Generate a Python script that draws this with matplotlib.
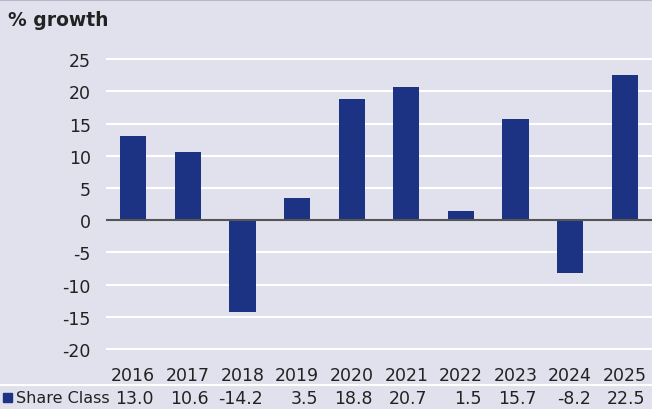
import matplotlib
matplotlib.use('Agg')
import matplotlib.pyplot as plt
import matplotlib.transforms as mtransforms
from matplotlib.lines import Line2D
from matplotlib.patches import Rectangle

years = ['2016', '2017', '2018', '2019', '2020', '2021', '2022', '2023', '2024', '2025']
share_class = [13.0, 10.6, -14.2, 3.5, 18.8, 20.7, 1.5, 15.7, -8.2, 22.5]
series_name = 'Share Class'
y_ticks = [25, 20, 15, 10, 5, 0, -5, -10, -15, -20]

bg = '#e1e1ee'
bar_color = '#1c3282'
text_color = '#222222'

W, H = 652, 410
fig = plt.figure(figsize=(W / 100, H / 100), dpi=100)
fig.patch.set_facecolor(bg)

# axes box in pixels: left 106, right 652, top ~44, bottom ~363
ax = fig.add_axes([106 / W, (H - 363) / H, (W - 106) / W, (363 - 44) / H])
ax.set_facecolor(bg)

x = list(range(len(years)))
ax.bar(x, share_class, width=0.48, color=bar_color, zorder=3)

ax.set_xlim(-0.5, len(years) - 0.5)
ax.set_ylim(-22, 27.5)
ax.set_yticks(y_ticks)
ax.set_yticklabels([str(t) for t in y_ticks], fontsize=12.5, color=text_color)
ax.tick_params(axis='y', length=0, pad=11)
ax.set_xticks([])
for t in y_ticks:
    if t == 0:
        ax.axhline(0, color='#555555', lw=1.5, zorder=4)
    else:
        ax.axhline(t, color='white', lw=1.5, zorder=1)
for s in ax.spines.values():
    s.set_visible(False)

# title
fig.text(8 / W, 1 - 21 / H, '% growth', fontsize=13.5, fontweight='bold',
         color=text_color, ha='left', va='center')

# top border
fig.add_artist(Line2D([0, 1], [1 - 1 / H, 1 - 1 / H], color='#b8b8c8', lw=1.5))

# data table below the chart
trans = mtransforms.blended_transform_factory(ax.transData, fig.transFigure)
year_y = 1 - 376 / H
val_y = 1 - 399 / H
for i, (yr, v) in enumerate(zip(years, share_class)):
    ax.text(i, year_y, yr, transform=trans, ha='center', va='center',
            fontsize=12.5, color=text_color)
    ax.text(i + 0.38, val_y, f'{v:.1f}', transform=trans, ha='right', va='center',
            fontsize=12.5, color=text_color)

fig.add_artist(Line2D([0, 1], [1 - 386 / H, 1 - 386 / H], color='white', lw=1.5))
fig.add_artist(Rectangle((3 / W, 1 - 403 / H), 9 / W, 9 / H, color=bar_color,
                         transform=fig.transFigure))
fig.text(16 / W, val_y, series_name, fontsize=11.5, color=text_color,
         ha='left', va='center')

fig.savefig('out.png', dpi=100, facecolor=bg)
